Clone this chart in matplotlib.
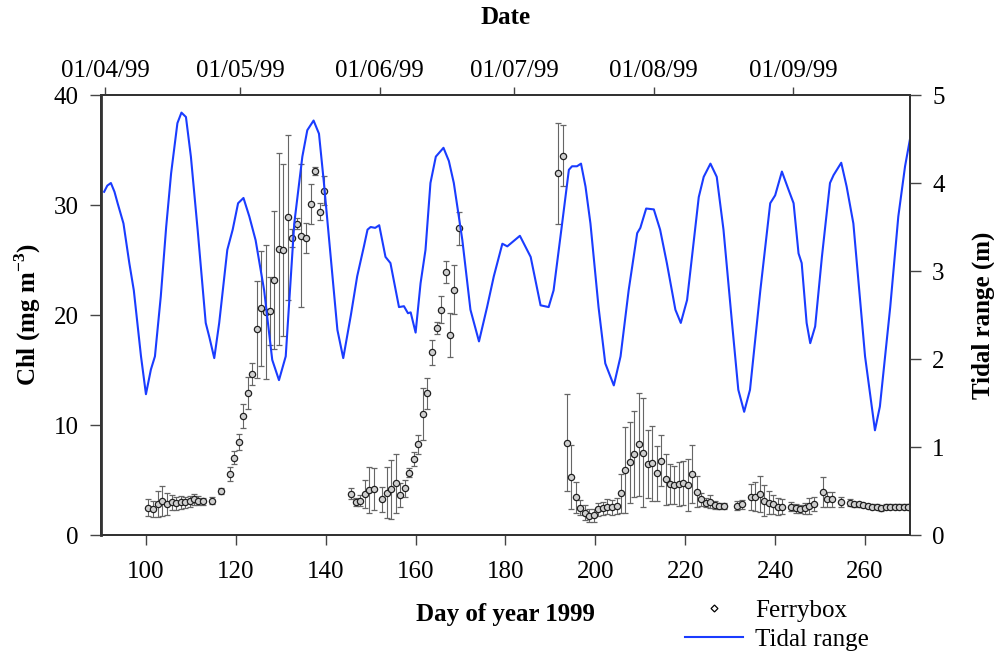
import matplotlib
matplotlib.use('Agg')
import matplotlib.pyplot as plt
from matplotlib.lines import Line2D

plt.rcParams['font.family'] = ['Liberation Serif', 'DejaVu Serif']
plt.rcParams['mathtext.fontset'] = 'custom'
plt.rcParams['mathtext.rm'] = 'Liberation Serif'
plt.rcParams['mathtext.bf'] = 'Liberation Serif:bold'

# Ferrybox chlorophyll (day of year, mg m-3, error)
fb_day = [100.5, 101.6, 102.6, 103.6, 104.7, 105.7, 106.7, 107.7, 108.7, 109.7,
          110.7, 111.6, 112.7, 114.7, 116.7, 118.7, 119.6, 120.6, 121.6, 122.6,
          123.6, 124.7, 125.6, 126.7, 127.6, 128.6, 129.6, 130.6, 131.6, 132.6,
          133.6, 134.6, 135.6, 136.7, 137.6, 138.7, 139.7,
          145.7, 146.7, 147.6, 148.7, 149.7, 150.7, 152.6, 153.6, 154.6, 155.6,
          156.6, 157.6, 158.6, 159.6, 160.6, 161.6, 162.6, 163.6, 164.7, 165.6,
          166.7, 167.6, 168.6, 169.6,
          191.7, 192.7, 193.6, 194.6, 195.6, 196.6, 197.6, 198.6, 199.6, 200.6,
          201.6, 202.6, 203.6, 204.7, 205.6, 206.6, 207.6, 208.6, 209.6, 210.6,
          211.6, 212.6, 213.6, 214.6, 215.6, 216.6, 217.6, 218.6, 219.6, 220.6,
          221.6, 222.6, 223.6, 224.6, 225.6, 226.6, 227.6, 228.6,
          231.6, 232.6, 234.6, 235.6, 236.6, 237.6, 238.6, 239.6, 240.6, 241.6,
          243.6, 244.6, 245.6, 246.6, 247.6, 248.6, 250.6, 251.6, 252.6, 254.6,
          256.6, 257.6, 258.6, 259.6, 260.6, 261.6, 262.6, 263.6, 264.6, 265.6,
          266.6, 267.6, 268.6, 269.6]
fb_chl = [2.5, 2.36, 2.82, 3.09, 2.79, 2.97, 2.88, 2.97, 2.97, 3.09,
          3.24, 3.12, 3.06, 3.12, 4.0, 5.55, 7.03, 8.45, 10.8, 12.9,
          14.6, 18.7, 20.6, 20.3, 20.4, 23.2, 26.0, 25.9, 28.9, 27.0,
          28.3, 27.2, 27.0, 30.1, 33.1, 29.4, 31.3,
          3.73, 3.0, 3.12, 3.73, 4.09, 4.21, 3.24, 3.85, 4.15, 4.70,
          3.64, 4.24, 5.67, 6.91, 8.24, 11.0, 12.9, 16.6, 18.8, 20.5,
          23.9, 18.2, 22.3, 27.9,
          32.9, 34.5, 8.4, 5.3, 3.42, 2.5, 2.03, 1.76, 1.79, 2.33,
          2.42, 2.58, 2.52, 2.64, 3.79, 5.9, 6.6, 7.33, 8.24, 7.48,
          6.45, 6.52, 5.6, 6.76, 5.06, 4.64, 4.55, 4.64, 4.76, 4.55,
          5.55, 3.94, 3.24, 2.94, 3.03, 2.73, 2.64, 2.64,
          2.67, 2.79, 3.48, 3.48, 3.73, 3.12, 2.94, 2.79, 2.58, 2.58,
          2.58, 2.42, 2.36, 2.42, 2.64, 2.79, 3.88, 3.24, 3.24, 3.03,
          2.94, 2.79, 2.79, 2.73, 2.64, 2.58, 2.58, 2.42, 2.58, 2.58,
          2.58, 2.58, 2.58, 2.58]
fb_err = [0.75, 0.75, 1.2, 1.4, 1.0, 0.7, 0.6, 0.6, 0.5, 0.5,
          0.5, 0.4, 0.3, 0.3, 0.3, 0.6, 0.6, 0.7, 1.1, 1.45,
          1.0, 4.4, 5.2, 6.1, 3.1, 6.3, 8.7, 7.8, 7.5, 0.85,
          0.5, 6.5, 1.4, 1.8, 0.4, 0.8, 1.3,
          0.5, 0.4, 0.5, 1.3, 2.1, 1.9, 1.15, 2.3, 2.7, 2.7,
          1.1, 0.75, 0.4, 0.65, 0.85, 2.35, 1.4, 1.1, 0.55, 1.2,
          1.0, 2.0, 2.25, 1.5,
          4.6, 2.8, 4.4, 2.9, 1.4, 0.7, 0.7, 0.6, 0.6, 0.6,
          0.6, 0.7, 0.7, 0.75, 1.8, 3.9, 3.7, 3.9, 4.65, 4.95,
          3.1, 3.4, 2.5, 2.35, 2.3, 1.8, 1.75, 2.0, 2.0, 2.35,
          2.6, 1.4, 0.6, 0.4, 0.6, 0.4, 0.3, 0.3,
          0.4, 0.4, 1.2, 1.3, 1.6, 1.4, 1.05, 0.85, 0.8, 0.7,
          0.4, 0.4, 0.4, 0.5, 0.7, 0.65, 1.35, 0.7, 0.7, 0.45,
          0.3, 0.2, 0.2, 0.2, 0.2, 0.2, 0.2, 0.2, 0.2, 0.2,
          0.2, 0.2, 0.2, 0.2]

# Tidal range (day of year, m)
tide_day = [90.7, 91.4, 92.2, 93.0, 93.7, 95.0, 96.3, 97.3, 98.9, 100.0,
            101.1, 102.0, 103.3, 104.5, 105.6, 107.0, 107.9, 108.9, 110.0, 111.5,
            113.3, 114.1, 115.2, 116.3, 118.1, 119.3, 120.5, 121.7, 123.0, 124.4,
            126.3, 128.1, 129.6, 131.1, 133.0, 134.8, 135.9, 137.3, 138.5, 139.6,
            141.1, 142.6, 143.9, 145.6, 147.0, 148.5, 149.3, 150.0, 151.0, 151.9,
            153.3, 154.4, 156.3, 157.4, 158.3, 158.9, 160.0, 161.1, 162.2, 163.3,
            164.5, 166.2, 167.4, 168.5, 170.4, 172.2, 174.1, 175.9, 177.4, 179.3,
            180.4, 183.2, 184.4, 185.6, 187.8, 189.6, 190.7, 192.6, 194.1, 194.8,
            195.9, 196.8, 197.8, 198.9, 200.7, 202.2, 204.1, 205.6, 207.4, 209.3,
            210.0, 211.3, 213.0, 214.4, 215.9, 217.8, 219.0, 220.4, 223.0, 224.1,
            225.6, 227.0, 228.5, 230.4, 231.8, 233.1, 234.4, 236.7, 238.9, 240.0,
            241.5, 243.0, 244.1, 245.2, 245.9, 247.0, 247.8, 248.9, 250.4, 252.2,
            253.0, 254.7, 255.9, 257.4, 260.0, 262.2, 263.3, 265.6, 267.4, 268.9,
            270.0]
tide_m = [3.90, 3.97, 4.00, 3.90, 3.77, 3.54, 3.09, 2.78, 2.03, 1.60,
          1.88, 2.03, 2.71, 3.50, 4.11, 4.68, 4.80, 4.75, 4.30, 3.47,
          2.41, 2.25, 2.01, 2.41, 3.24, 3.47, 3.77, 3.83, 3.62, 3.35,
          2.78, 1.99, 1.76, 2.03, 3.54, 4.30, 4.60, 4.71, 4.56, 4.00,
          3.16, 2.33, 2.01, 2.50, 2.94, 3.28, 3.47, 3.50, 3.49, 3.52,
          3.16, 3.09, 2.59, 2.60, 2.52, 2.53, 2.30, 2.86, 3.24, 4.00,
          4.30, 4.40, 4.25, 4.00, 3.35, 2.56, 2.20, 2.59, 2.94, 3.31,
          3.28, 3.40, 3.28, 3.16, 2.61, 2.59, 2.78, 3.54, 4.15, 4.19,
          4.19, 4.22, 3.96, 3.54, 2.59, 1.95, 1.70, 2.03, 2.78, 3.43,
          3.49, 3.71, 3.70, 3.47, 3.09, 2.56, 2.41, 2.67, 3.84, 4.07,
          4.22, 4.07, 3.47, 2.41, 1.65, 1.40, 1.65, 2.78, 3.77, 3.86,
          4.13, 3.92, 3.77, 3.20, 3.09, 2.41, 2.18, 2.37, 3.16, 4.00,
          4.09, 4.23, 3.96, 3.54, 2.03, 1.19, 1.46, 2.59, 3.62, 4.19,
          4.50]

date_days = [91, 121, 152, 182, 213, 244]
date_labels = ['01/04/99', '01/05/99', '01/06/99', '01/07/99', '01/08/99', '01/09/99']

FS = 18

fig = plt.figure(figsize=(9.95, 6.58), dpi=100)
ax = fig.add_axes([101/995, 1 - 535/658, 809/995, 440/658])

ax.errorbar(fb_day, fb_chl, yerr=fb_err, fmt='o', ms=4.5, mfc='#d0d0d0', mec='#222222',
            mew=0.9, ecolor='#666666', elinewidth=0.8, capsize=2, capthick=0.8,
            zorder=3)
ax.set_xlim(90, 270)
ax.set_ylim(0, 40)
ax.set_xticks(range(100, 261, 20))
ax.set_yticks(range(0, 41, 10))
ax.set_xlabel('Day of year 1999', fontsize=FS, fontweight='bold', labelpad=14)
ax.set_ylabel(r'Chl (mg m$^{\mathbf{-3}}$)', fontsize=FS, fontweight='bold', labelpad=8)

ax2 = ax.twinx()
line, = ax2.plot(tide_day, tide_m, color='#1a3cff', lw=1.5)
ax2.set_ylim(0, 5)
ax2.set_yticks(range(0, 6))
ax2.set_ylabel('Tidal range (m)', fontsize=FS, fontweight='bold', labelpad=19)

top = ax.secondary_xaxis('top')
top.set_xticks(date_days)
top.set_xticklabels(date_labels)
top.set_xlabel('Date', fontsize=FS, fontweight='bold', labelpad=26)

ax.tick_params(axis='x', direction='out', length=7, width=1, pad=12,
               labelsize=FS, color='#444444')
ax.tick_params(axis='y', direction='out', length=8, width=1, pad=8,
               labelsize=FS, color='#444444')
ax2.tick_params(axis='y', direction='out', length=8, width=1, pad=8,
                labelsize=FS, color='#444444')
top.tick_params(direction='out', length=6, width=1, pad=3,
                labelsize=FS, color='#444444')
for a in (ax, ax2):
    for s in a.spines.values():
        s.set_linewidth(1.4)
        s.set_color('#333333')
ax.spines['left'].set_linewidth(2)
top.spines['top'].set_linewidth(1.4)
top.spines['top'].set_color('#333333')

fb_handle = Line2D([], [], marker='D', ms=3.5, mfc='white', mec='black',
                   mew=0.9, linestyle='none')
fig.legend([fb_handle, line], ['Ferrybox', 'Tidal range'], loc='upper left',
           bbox_to_anchor=(673/995, 1 - 587/658), frameon=False, fontsize=FS,
           handlelength=2.3, handletextpad=0.5, borderpad=0, labelspacing=0.25)

fig.savefig('out.png', dpi=100)
